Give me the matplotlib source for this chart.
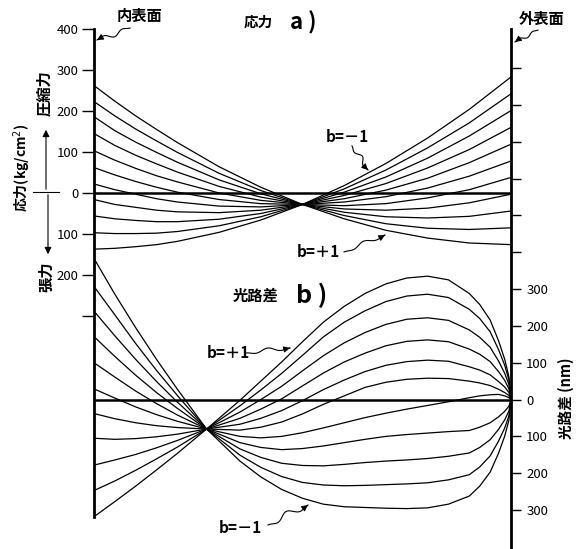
import matplotlib
matplotlib.use('Agg')
import matplotlib.pyplot as plt
import numpy as np
from matplotlib.lines import Line2D
from matplotlib.patches import FancyArrowPatch

plt.rcParams['font.family'] = ['Noto Sans CJK JP', 'DejaVu Sans']

W, H = 584, 549

# 半径方向の位置 (内表面 = 0, 外表面 = 1)
r_stress = [0, 0.05, 0.1, 0.15, 0.2, 0.3, 0.4, 0.5, 0.6, 0.7, 0.8, 0.9, 1.0]
# a) 応力 (kg/cm2), b = +1 ... -1
stress_curves = [
    [262, 224, 188, 155, 123, 64, 14, -28, -63, -91, -110, -122, -126],
    [223, 188, 156, 127, 99, 48, 6, -28, -55, -75, -86, -89, -85],
    [186, 152, 124, 99, 75, 32, -2, -28, -47, -58, -61, -57, -44],
    [145, 116, 92, 71, 51, 16, -10, -28, -39, -42, -37, -24, -3],
    [103, 80, 60, 42, 27, 0, -18, -28, -31, -26, -12, 8, 38],
    [62, 44, 28, 14, 2, -16, -26, -28, -22, -9, 12, 41, 78],
    [22, 8, -3, -14, -22, -32, -34, -28, -14, 7, 36, 74, 119],
    [-16, -28, -35, -42, -46, -48, -42, -28, -6, 23, 61, 106, 160],
    [-56, -63, -67, -70, -70, -64, -50, -28, 2, 39, 85, 139, 201],
    [-97, -99, -99, -98, -94, -80, -58, -28, 10, 56, 110, 171, 242],
    [-137, -135, -131, -126, -118, -96, -66, -28, 18, 72, 134, 204, 283],
]

# b) 光路差 (nm), b = +1 ... -1
r_opd = [0, 0.05, 0.1, 0.15, 0.2, 0.27, 0.35, 0.4, 0.45, 0.5, 0.55, 0.6, 0.65, 0.7,
         0.75, 0.8, 0.85, 0.9, 0.925, 0.95, 0.97, 0.985, 0.995, 1.0]
opd_curves = [
    [-318, -277, -235, -191, -146, -80, -2, 50, 102, 157, 210, 253, 288, 314,
     330, 335, 325, 288, 258, 216, 160, 109, 62, 0],
    [-247, -221, -192, -161, -129, -80, -17, 26, 71, 120, 170, 210, 241, 266,
     281, 286, 277, 245, 220, 184, 136, 93, 53, 0],
    [-178, -164, -149, -131, -111, -80, -34, 0, 36, 78, 119, 154, 182, 204,
     218, 222, 215, 189, 169, 142, 105, 71, 41, 0],
    [-105, -108, -106, -101, -94, -80, -51, -26, 2, 37, 72, 102, 126, 146,
     158, 162, 157, 137, 123, 103, 76, 52, 29, 0],
    [-38, -52, -63, -71, -76, -80, -67, -51, -30, -3, 27, 53, 76, 93,
     103, 107, 104, 89, 80, 67, 49, 34, 19, 0],
    [29, 4, -20, -41, -59, -80, -83, -75, -61, -39, -13, 10, 33, 47,
     55, 58, 57, 50, 45, 38, 28, 19, 11, 0],
    [100, 61, 23, -11, -42, -80, -100, -104, -100, -90, -77, -63, -49, -37,
     -26, -16, -6, 5, 10, 13, 14, 10, 5, 0],
    [171, 117, 66, 19, -24, -80, -117, -130, -136, -133, -126, -117, -108, -100,
     -95, -91, -87, -84, -75, -63, -47, -32, -18, 0],
    [240, 173, 109, 49, -7, -80, -134, -157, -173, -179, -180, -176, -171, -167,
     -164, -160, -154, -145, -130, -109, -81, -55, -31, 0],
    [307, 230, 152, 79, 11, -80, -151, -184, -209, -225, -232, -234, -233, -231,
     -229, -226, -218, -204, -183, -153, -113, -77, -44, 0],
    [383, 286, 195, 109, 28, -80, -167, -210, -244, -268, -284, -291, -293, -295,
     -296, -294, -284, -262, -235, -197, -146, -99, -56, 0],
]

stress_ticks = [400, 300, 200, 100, 0, -100, -200, -300]
stress_labels = ['400', '300', '200', '100', '0', '100', '200', '']
opd_ticks = list(range(-300, 1000, 100))
opd_labels = [str(abs(v)) if v <= 300 else '' for v in opd_ticks]


def fx(x):
    return x / W


def fy(y):
    return 1 - y / H


def squiggle(fig, x0, y0, x1, y1, amp=3.0, waves=1.5):
    # 波線の矢印 (ピクセル座標, 上が0)
    s = np.linspace(0, 1, 40)
    dx, dy = x1 - x0, y1 - y0
    L = np.hypot(dx, dy)
    nx, ny = -dy / L, dx / L
    w = amp * np.sin(2 * np.pi * waves * s) * np.sin(np.pi * s)
    xs = x0 + dx * s + nx * w
    ys = y0 + dy * s + ny * w
    fig.add_artist(Line2D(fx(xs), fy(ys), color='black', lw=0.8,
                          transform=fig.transFigure))
    fig.add_artist(FancyArrowPatch((fx(xs[-4]), fy(ys[-4])), (fx(x1), fy(y1)),
                                   arrowstyle='-|>', mutation_scale=9, lw=0.8,
                                   color='black', transform=fig.transFigure))


fig = plt.figure(figsize=(W / 100, H / 100), dpi=100)
ax1 = fig.add_axes([fx(94), fy(548), 417 / W, (548 - 29) / H])
ax2 = ax1.twinx()

ax1.set_xlim(0, 1)
ax1.set_ylim(-866, 400)
ax2.set_ylim(-403, 1006)

for curve in stress_curves:
    ax1.plot(r_stress, curve, color='black', lw=0.9)
for curve in opd_curves:
    ax2.plot(r_opd, curve, color='black', lw=0.9)

ax1.axhline(0, color='black', lw=1.8)
ax2.axhline(0, color='black', lw=1.8)

for sp in ['top', 'right', 'bottom']:
    ax1.spines[sp].set_visible(False)
for sp in ['top', 'left', 'bottom']:
    ax2.spines[sp].set_visible(False)
ax1.spines['left'].set_linewidth(2)
ax1.spines['left'].set_bounds(-790, 400)
ax2.spines['right'].set_linewidth(2)

ax1.set_xticks([])
ax1.set_yticks(stress_ticks)
ax1.set_yticklabels(stress_labels)
ax1.tick_params(axis='y', direction='out', length=9, width=1, pad=2, labelsize=9.5)
ax2.set_yticks(opd_ticks)
ax2.set_yticklabels(opd_labels)
ax2.tick_params(axis='y', direction='out', length=7, width=1, pad=4, labelsize=9.5)

# タイトル・ラベル
fig.text(fx(139), fy(16), '内表面', ha='center', va='center', fontsize=11, fontweight='bold')
fig.text(fx(542), fy(19), '外表面', ha='center', va='center', fontsize=11, fontweight='bold')
squiggle(fig, 130, 28, 97, 40)
squiggle(fig, 538, 30, 515, 42, amp=2)

fig.text(fx(258), fy(22), '応力', ha='center', va='center', fontsize=10.5, fontweight='bold')
fig.text(fx(303), fy(23), 'a )', ha='center', va='center', fontsize=16, fontweight='bold')
fig.text(fx(256), fy(296), '光路差', ha='center', va='center', fontsize=11, fontweight='bold')
fig.text(fx(312), fy(295), 'b )', ha='center', va='center', fontsize=18, fontweight='bold')

fig.text(fx(22), fy(168), '応力(kg/cm$^2$)', ha='center', va='center', rotation=90,
         fontsize=10, fontweight='bold')
fig.text(fx(44), fy(93), '圧縮力', ha='center', va='center', rotation=90,
         fontsize=11, fontweight='bold')
fig.text(fx(46), fy(277), '張力', ha='center', va='center', rotation=90,
         fontsize=11, fontweight='bold')
fig.add_artist(Line2D([fx(33), fx(59)], [fy(192), fy(192)], color='black', lw=0.8,
                      transform=fig.transFigure))
fig.add_artist(FancyArrowPatch((fx(46), fy(192)), (fx(46), fy(127)), arrowstyle='-|>',
                               mutation_scale=10, lw=0.8, color='black',
                               transform=fig.transFigure))
fig.add_artist(FancyArrowPatch((fx(48), fy(192)), (fx(48), fy(257)), arrowstyle='-|>',
                               mutation_scale=10, lw=0.8, color='black',
                               transform=fig.transFigure))
fig.text(fx(566), fy(398), '光路差 (nm)', ha='center', va='center', rotation=90,
         fontsize=10.5, fontweight='bold')

# b の注記
fig.text(fx(347), fy(137), 'b=－1', ha='center', va='center', fontsize=11, fontweight='bold')
squiggle(fig, 352, 146, 368, 170, amp=3)
fig.text(fx(318), fy(252), 'b=＋1', ha='center', va='center', fontsize=11, fontweight='bold')
squiggle(fig, 344, 252, 385, 235, amp=2.5)
fig.text(fx(228), fy(353), 'b=＋1', ha='center', va='center', fontsize=11, fontweight='bold')
squiggle(fig, 246, 353, 290, 348, amp=2.5)
fig.text(fx(240), fy(528), 'b=－1', ha='center', va='center', fontsize=11, fontweight='bold')
squiggle(fig, 268, 525, 308, 505, amp=4)

fig.savefig('out.png', dpi=100)
